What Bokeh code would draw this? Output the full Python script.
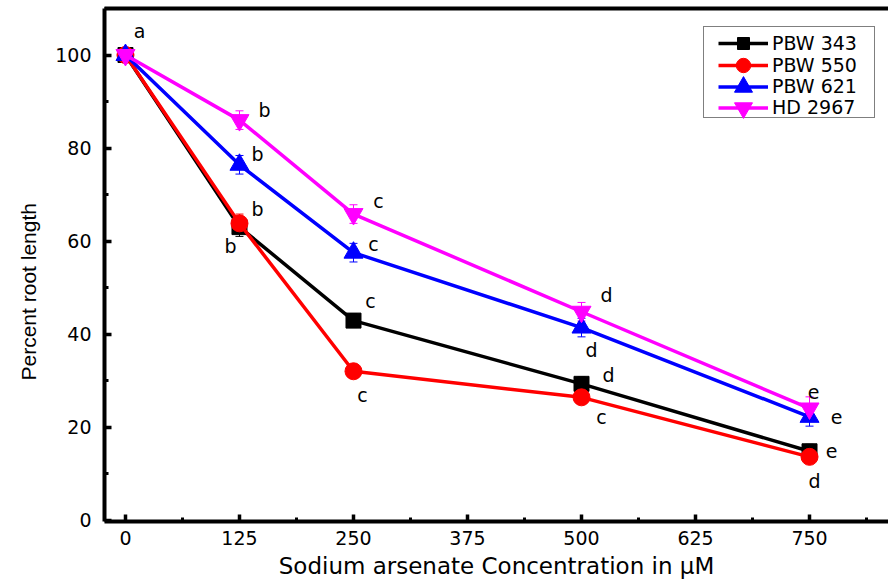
from bokeh.plotting import figure
from bokeh.models import (ColumnDataSource, FixedTicker, LinearAxis, Range1d,
                          Whisker, TeeHead, Legend, LegendItem, Title)
from bokeh.core.properties import value
from bokeh.embed import file_html
from bokeh.resources import INLINE

# Sodium arsenate concentration (µM)
conc = [0, 125, 250, 500, 750]

# Percent root length per cultivar
pbw343 = [100, 63.0, 42.9, 29.3, 14.8]
pbw550 = [100, 63.8, 32.0, 26.4, 13.6]
pbw621 = [100, 76.4, 57.5, 41.4, 22.2]
hd2967 = [100, 86.0, 65.8, 44.8, 24.0]

# Standard errors
err343 = [1.5, 2.0, 1.5, 1.5, 1.5]
err550 = [1.5, 2.0, 1.5, 1.5, 1.5]
err621 = [1.5, 2.0, 2.0, 2.0, 2.0]
err2967 = [1.5, 2.0, 2.0, 2.0, 2.5]

# Significance letters (Duncan groups)
let343 = ["a", "b", "c", "d", "e"]
let550 = ["a", "b", "c", "c", "d"]
let621 = ["a", "b", "c", "d", "e"]
let2967 = ["a", "b", "c", "d", "e"]

names = ["PBW 343", "PBW 550", "PBW 621", "HD 2967"]
x_ticks = [0, 125, 250, 375, 500, 625, 750]
y_ticks = [0, 20, 40, 60, 80, 100]

FONT = "DejaVu Sans"
YFONT = "Liberation Sans"

series = [
    dict(name=names[0], y=pbw343, err=err343, letters=let343, color="black",
         marker="square", size=15, leg_h=30,
         offs=[None, (-9, 19), (17, -20), (27, -9), (22, 0)]),
    dict(name=names[1], y=pbw550, err=err550, letters=let550, color="red",
         marker="circle", size=17, leg_h=36,
         offs=[None, (18, -14), (9, 24), (20, 20), (5, 24)]),
    dict(name=names[2], y=pbw621, err=err621, letters=let621, color="blue",
         marker="triangle", size=19, leg_h=45,
         offs=[None, (18, -11), (20, -9), (10, 22), (27, 0)]),
    dict(name=names[3], y=hd2967, err=err2967, letters=let2967, color="magenta",
         marker="inverted_triangle", size=19, leg_h=45,
         offs=[(14, -24), (25, -10), (25, -13), (25, -17), (4, -16)]),
]

W, H = 888, 587
BL, BT, BB = 104, 8, 66
p = figure(width=W, height=H, output_backend="svg", toolbar_location=None,
           x_range=Range1d(-23, 836.6), y_range=Range1d(-0.3, 110))
p.min_border_left = BL
p.min_border_right = 0
p.min_border_top = BT
p.min_border_bottom = BB
p.outline_line_color = None
p.grid.visible = False
p.background_fill_color = "white"
p.border_fill_color = "white"

# main axes styling
for ax in (p.xaxis[0], p.yaxis[0]):
    ax.axis_line_width = 4
    ax.axis_line_color = "black"
    ax.major_tick_line_width = 3.5
    ax.minor_tick_line_width = 3
    ax.major_tick_in = 7
    ax.major_tick_out = 0
    ax.minor_tick_in = 4
    ax.minor_tick_out = 0
    ax.major_label_text_font = FONT
    ax.major_label_text_font_size = "19px"
    ax.major_label_text_color = "black"

p.xaxis[0].ticker = FixedTicker(ticks=x_ticks,
                                minor_ticks=[t + 62.5 for t in x_ticks])
p.yaxis[0].ticker = FixedTicker(ticks=y_ticks,
                                minor_ticks=[t + 10 for t in y_ticks])
p.xaxis[0].axis_label = "Sodium arsenate Concentration in µM"
p.xaxis[0].axis_label_text_font = FONT
p.xaxis[0].axis_label_text_font_style = "normal"
p.xaxis[0].axis_label_text_color = "black"
p.xaxis[0].axis_label_text_font_size = "23px"
p.xaxis[0].major_label_standoff = 9
p.yaxis[0].major_label_standoff = 13
p.xaxis[0].axis_label_standoff = 5

# y title on the left, starting a fixed distance above the frame bottom
ytitle = Title(text="Percent root length", align="left", offset=141,
               text_font=YFONT, text_font_size="21px",
               text_font_style="normal", text_color="black", standoff=26)
p.add_layout(ytitle, "left")

# top frame line
top = LinearAxis(ticker=FixedTicker(ticks=[]), axis_line_width=4,
                 axis_line_color="black",
                 major_label_text_font_size="0px", major_tick_line_color=None,
                 minor_tick_line_color=None)
p.add_layout(top, "above")

rends = []
for s in series:
    src = ColumnDataSource(dict(x=conc, y=s["y"],
                                lo=[v - e for v, e in zip(s["y"], s["err"])],
                                hi=[v + e for v, e in zip(s["y"], s["err"])]))
    ln = p.line("x", "y", source=src, line_color=s["color"], line_width=3.5)
    sc = p.scatter("x", "y", source=src, marker=s["marker"], size=s["size"],
                   fill_color=s["color"], line_color=s["color"])
    wh = Whisker(base="x", lower="lo", upper="hi", source=src,
                 line_color=s["color"], line_width=1,
                 upper_head=TeeHead(size=8, line_color=s["color"], line_width=1),
                 lower_head=TeeHead(size=8, line_color=s["color"], line_width=1))
    p.add_layout(wh)
    rends.append((ln, sc))

# significance letters
for s in series:
    idx = [i for i, o in enumerate(s["offs"]) if o is not None]
    src = ColumnDataSource(dict(
        x=[conc[i] for i in idx], y=[s["y"][i] for i in idx],
        t=[s["letters"][i] for i in idx],
        dx=[s["offs"][i][0] for i in idx], dy=[s["offs"][i][1] for i in idx]))
    p.text("x", "y", text="t", source=src, x_offset="dx", y_offset="dy",
           text_font=value(FONT), text_font_size="19px", text_color="black",
           text_align="center", text_baseline="middle")

# legend frame (an empty entry sized to the box)
ghost = p.line(x=[], y=[], line_alpha=0)
box_left, box_top, box_w, box_h = 703, 28, 170, 90
frame_bottom = H - BB
frame_box = Legend(items=[LegendItem(label="", renderers=[ghost])],
                   location=(box_left - BL, frame_bottom - (box_top + box_h)),
                   glyph_width=1, glyph_height=box_h - 2, label_height=box_h - 2,
                   label_width=box_w - 3, label_standoff=0, padding=1, margin=0,
                   border_line_color="black", border_line_width=1,
                   background_fill_color="white", background_fill_alpha=1)
p.add_layout(frame_box, "center")

# one legend row per cultivar, glyph boxes tall enough for full-size markers
row_c = [43, 65, 86, 107]
for s, (ln, sc), cy in zip(series, rends, row_c):
    gh = s["leg_h"]
    lg = Legend(items=[LegendItem(label=s["name"], renderers=[ln, sc])],
                location=(718 - BL, frame_bottom - (cy + gh / 2)),
                glyph_width=50, glyph_height=gh, label_height=0,
                label_standoff=4, padding=0, margin=0,
                label_text_font=FONT, label_text_font_size="19px",
                label_text_color="black", border_line_color=None,
                background_fill_alpha=0)
    p.add_layout(lg, "center")

open("out.html", "w").write(file_html(p, INLINE))
